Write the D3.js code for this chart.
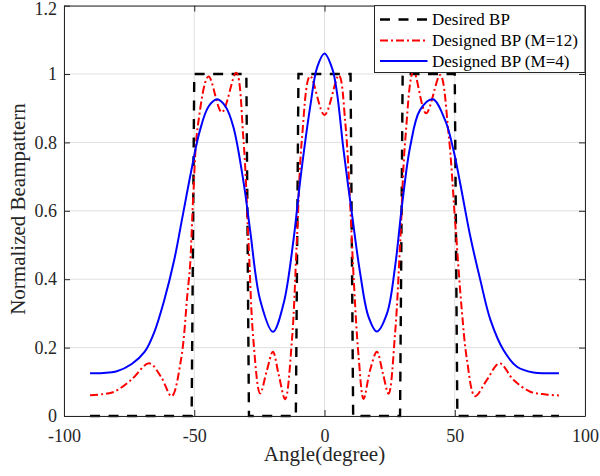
<!DOCTYPE html>
<html><head><meta charset="utf-8">
<script src="https://cdn.jsdelivr.net/npm/d3@7/dist/d3.min.js"></script>
<style>body{margin:0;background:#fff}svg{display:block}</style>
</head><body>
<svg id="chart" width="600" height="476"></svg>
<script>
// ---- data ----
const xTicks = [-100, -50, 0, 50, 100];
const xTickLabels = ["-100", "-50", "0", "50", "100"];
const yTicks = [0, 0.2, 0.4, 0.6, 0.8, 1, 1.2];
const yTickLabels = ["0", "0.2", "0.4", "0.6", "0.8", "1", "1.2"];

const seriesNames = ["Desired BP", "Designed BP (M=12)", "Designed BP (M=4)"];

const desiredAngles = [-90, -51, -50, -30, -29, -11, -10, 10, 11, 29, 30, 50, 51, 90];
const desiredValues = [0, 0, 1, 1, 0, 0, 1, 1, 0, 0, 1, 1, 0, 0];

const m12Angles = [-90, -85, -80.7, -74.3, -67.3, -62.8, -58.7, -55.1, -52.6, -51.6, -50.4, -48.6, -44.5, -39.4, -33.9, -31.1, -29.2, -27.3, -24.7, -22.1, -19.8, -17.7, -15.1, -12.5, -10.6, -8.7, -5.5, 0, 5.5, 8.0, 9.9, 11.1, 13.1, 15.0, 17.5, 20.1, 22.4, 24.6, 27.1, 29.1, 31.0, 34.2, 39.0, 44.4, 47.6, 50.2, 52.7, 54.7, 57.8, 62.3, 67.2, 72.6, 79.0, 85, 90];
const m12Values = [0.061, 0.064, 0.071, 0.105, 0.154, 0.115, 0.058, 0.164, 0.359, 0.44, 0.64, 0.85, 0.993, 0.888, 1.004, 0.807, 0.515, 0.222, 0.066, 0.134, 0.188, 0.125, 0.049, 0.222, 0.515, 0.807, 0.994, 0.880, 0.996, 0.856, 0.612, 0.417, 0.173, 0.050, 0.134, 0.188, 0.125, 0.065, 0.242, 0.515, 0.807, 1.008, 0.885, 0.997, 0.827, 0.563, 0.310, 0.164, 0.058, 0.105, 0.154, 0.105, 0.071, 0.063, 0.060];

const m4Angles = [-90, -85, -80, -74, -69, -65.4, -61.5, -57.7, -54.5, -51.2, -48, -44.5, -41.2, -38, -35, -31, -28.5, -24.7, -19.8, -15.7, -11.9, -9.3, -5.5, -2.8, 0, 3, 4.8, 7.3, 10.5, 13.7, 16.9, 20.1, 24, 27.1, 29.7, 32.9, 36.7, 41.6, 46.3, 49.5, 52.1, 56, 59.8, 63.7, 68.7, 73.9, 80.2, 85, 90];
const m4Values = [0.125, 0.126, 0.130, 0.152, 0.188, 0.244, 0.339, 0.456, 0.583, 0.715, 0.830, 0.905, 0.926, 0.905, 0.846, 0.680, 0.540, 0.339, 0.246, 0.329, 0.515, 0.690, 0.904, 1.020, 1.060, 1.015, 0.945, 0.778, 0.593, 0.417, 0.290, 0.247, 0.300, 0.437, 0.612, 0.788, 0.895, 0.926, 0.865, 0.778, 0.680, 0.524, 0.398, 0.281, 0.193, 0.144, 0.127, 0.125, 0.125];

// ---- layout ----
const svg = d3.select("#chart");
const L = 64, R = 585, T = 5.6, B = 416;
const x = d3.scaleLinear().domain([-100, 100]).range([L, R]);
const y = d3.scaleLinear().domain([0, 1.2]).range([B, T]);
const axisColor = "#262626";
const font = "'Liberation Serif','Times New Roman',serif";

// grid
const grid = svg.append("g");
grid.selectAll(".gx").data(xTicks).enter().append("line")
  .attr("x1", d => x(d)).attr("x2", d => x(d)).attr("y1", T).attr("y2", B)
  .attr("stroke", "#dfdfdf").attr("stroke-width", 1);
grid.selectAll(".gy").data(yTicks).enter().append("line")
  .attr("x1", L).attr("x2", R).attr("y1", d => y(d)).attr("y2", d => y(d))
  .attr("stroke", "#dfdfdf").attr("stroke-width", 1);

// series
const pts = (a, v) => a.map((d, i) => [d, v[i]]);
const lineLin = d3.line().x(d => x(d[0])).y(d => y(d[1]));
const lineSmooth = d3.line().x(d => x(d[0])).y(d => y(d[1])).curve(d3.curveCatmullRom.alpha(0.5));

const clip = svg.append("clipPath").attr("id", "clip").append("rect")
  .attr("x", L).attr("y", T - 3).attr("width", R - L).attr("height", B - T + 6);
const plot = svg.append("g").attr("clip-path", "url(#clip)");

plot.append("path").datum(pts(desiredAngles, desiredValues)).attr("d", lineLin)
  .attr("fill", "none").attr("stroke", "#000").attr("stroke-width", 2.4)
  .attr("stroke-dasharray", "10,8.5");
plot.append("path").datum(pts(m12Angles, m12Values)).attr("d", lineSmooth)
  .attr("fill", "none").attr("stroke", "#ff0000").attr("stroke-width", 2)
  .attr("stroke-dasharray", "8,3,2,3");
plot.append("path").datum(pts(m4Angles, m4Values)).attr("d", lineSmooth)
  .attr("fill", "none").attr("stroke", "#0000ff").attr("stroke-width", 2);

// axes
const xAxis = d3.axisBottom(x).tickValues(xTicks).tickFormat((d, i) => xTickLabels[i])
  .tickSizeInner(-6).tickSizeOuter(0).tickPadding(13);
const yAxis = d3.axisLeft(y).tickValues(yTicks).tickFormat((d, i) => yTickLabels[i])
  .tickSizeInner(-6).tickSizeOuter(0).tickPadding(7);
const xTop = d3.axisTop(x).tickValues(xTicks).tickFormat("").tickSizeInner(-6).tickSizeOuter(0);
const yRight = d3.axisRight(y).tickValues(yTicks).tickFormat("").tickSizeInner(-6).tickSizeOuter(0);

function style(g) {
  g.selectAll("path.domain").attr("stroke", axisColor).attr("stroke-width", 1);
  g.selectAll(".tick line").attr("stroke", axisColor).attr("stroke-width", 1);
  g.selectAll(".tick text").attr("fill", axisColor).style("font-family", font).style("font-size", "18px");
}
svg.append("g").attr("transform", `translate(0,${B})`).call(xAxis).call(style);
const gy = svg.append("g").attr("transform", `translate(${L},0)`).call(yAxis).call(style);
gy.selectAll(".tick text").filter(d => d === 1.2).attr("dy", "0.5em");
svg.append("g").attr("transform", `translate(0,${T})`).call(xTop).call(style);
svg.append("g").attr("transform", `translate(${R},0)`).call(yRight).call(style);

// axis titles
svg.append("text").attr("x", (L + R) / 2).attr("y", 461).attr("text-anchor", "middle")
  .attr("fill", axisColor).style("font-family", font).style("font-size", "21px")
  .text("Angle(degree)");
svg.append("text").attr("transform", `translate(24.5,209) rotate(-90)`)
  .attr("text-anchor", "middle").attr("fill", axisColor)
  .style("font-family", font).style("font-size", "21px")
  .text("Normalized Beampattern");

// legend
const lg = svg.append("g");
lg.append("rect").attr("x", 374.5).attr("y", T).attr("width", R - 374.5).attr("height", 72.5 - T)
  .attr("fill", "#fff").attr("stroke", axisColor).attr("stroke-width", 1);
const legStyles = [
  {c: "#000", w: 2.4, dash: "10,8.5"},
  {c: "#ff0000", w: 2, dash: "8,3,2,3"},
  {c: "#0000ff", w: 2, dash: null}
];
const rowsY = [19.5, 40.5, 61];
seriesNames.forEach((name, i) => {
  const s = legStyles[i];
  const ln = lg.append("line").attr("x1", 380).attr("x2", 427.5)
    .attr("y1", rowsY[i]).attr("y2", rowsY[i])
    .attr("stroke", s.c).attr("stroke-width", s.w);
  if (s.dash) ln.attr("stroke-dasharray", s.dash);
  lg.append("text").attr("x", 432).attr("y", rowsY[i]).attr("dy", "0.33em")
    .attr("fill", "#000").style("font-family", font).style("font-size", "17px")
    .text(name);
});
</script>
</body></html>
